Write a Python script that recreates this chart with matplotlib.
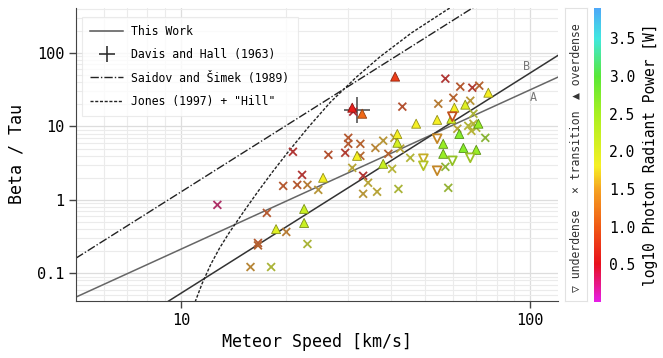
import numpy as np
import matplotlib
matplotlib.use("Agg")
import matplotlib.pyplot as plt
from matplotlib.colors import LinearSegmentedColormap, Normalize
from matplotlib.lines import Line2D
from matplotlib.ticker import FixedLocator, FixedFormatter, NullFormatter

plt.rcParams['font.family'] = ['DejaVu Sans Mono', 'DejaVu Sans']

# overdense meteors (speed km/s, beta/tau, log10 power W)
over_v = [41.0, 30.9, 33.0, 75.8, 60.6, 65.1, 47.1, 54.1, 59.4, 71.0, 41.6, 41.6,
          62.6, 56.3, 64.3, 70.0, 56.3, 31.9, 37.9, 25.5, 22.5, 22.5, 18.7]
over_bt = [47.7, 18.0, 14.9, 28.8, 18.0, 19.8, 10.9, 12.3, 12.7, 10.9, 7.9, 6.0,
           7.9, 5.8, 5.1, 4.8, 4.24, 3.98, 3.10, 2.0, 0.754, 0.485, 0.40]
over_p = [0.8, 0.6, 1.1, 1.8, 1.8, 2.0, 1.8, 1.8, 2.1, 2.6, 1.8, 2.1,
          2.7, 2.6, 2.7, 2.6, 2.6, 1.8, 2.2, 1.8, 2.2, 2.2, 2.0]

# underdense meteors
under_v = [59.8, 54.1, 49.4, 49.4, 54.1, 59.8, 67.3]
under_bt = [13.6, 6.8, 3.63, 2.91, 2.49, 3.40, 3.74]
under_p = [1.0, 1.5, 1.7, 2.0, 1.5, 2.4, 2.3]

# transition meteors
trans_v = [57.1, 63.0, 68.2, 71.4, 60.2, 54.5, 67.3, 43.0, 31.1, 68.7, 61.8, 66.4,
           68.7, 70.0, 67.8, 74.3, 30.1, 30.1, 32.6, 29.5, 36.0, 37.9, 40.8, 26.4,
           32.6, 39.2, 42.4, 45.3, 30.9, 40.2, 57.1, 33.2, 20.9, 22.2, 19.6, 21.5,
           23.0, 24.7, 12.7, 17.6, 20.0, 16.6, 16.6, 23.0, 15.8, 18.1, 34.3, 33.2,
           36.4, 41.9, 58.2]
trans_bt = [44.8, 34.8, 33.7, 35.9, 24.6, 20.4, 22.4, 18.6, 15.9, 14.9, 9.3, 10.2,
            10.9, 9.6, 8.7, 7.0, 7.0, 5.8, 5.8, 4.38, 5.1, 6.4, 7.0, 4.11,
            3.98, 4.24, 5.0, 3.74, 2.73, 2.65, 2.82, 2.13, 4.52, 2.19, 1.55, 1.60,
            1.60, 1.37, 0.855, 0.665, 0.366, 0.259, 0.240, 0.251, 0.122, 0.122, 1.71, 1.21,
            1.29, 1.41, 1.46]
trans_p = [0.6, 1.0, 0.7, 1.1, 1.1, 1.4, 1.6, 0.9, 0.5, 2.0, 1.7, 1.9,
           1.8, 2.0, 1.8, 2.5, 1.0, 1.0, 1.1, 0.7, 1.5, 1.6, 1.6, 0.9,
           1.2, 1.1, 1.7, 1.9, 1.7, 1.8, 2.4, 0.6, 0.6, 0.6, 1.0, 1.0,
           1.4, 1.6, 0.3, 1.0, 1.4, 1.0, 1.1, 2.0, 1.5, 2.0, 1.7, 1.6,
           1.7, 2.0, 2.3]

# Davis and Hall (1963)
davis_v, davis_bt = 31.9, 17.0

# power-law fits: beta/tau = 10**logc * v**k
fit_a = (-2.84, 2.17)
fit_b = (-4.27, 3.0)
saidov = (-2.89, 3.0)

# Jones (1997) + "Hill" (log10 v, log10 beta/tau)
jones_logv = [1.040, 1.060, 1.085, 1.110, 1.1375, 1.180, 1.220, 1.262,
              1.304, 1.365, 1.427, 1.500, 1.570, 1.660, 1.762, 1.80]
jones_logbt = [-1.39, -1.14, -0.877, -0.657, -0.448, -0.154, 0.114, 0.383,
               0.639, 0.993, 1.328, 1.664, 1.951, 2.275, 2.591, 2.70]

cmap = LinearSegmentedColormap.from_list("power", [
    (0.0, '#e61ee6'), (0.128, '#e8101c'), (0.256, '#f05a14'),
    (0.385, '#f5a422'), (0.462, '#f6f024'), (0.641, '#a8f020'),
    (0.769, '#58e838'), (0.897, '#40e8e0'), (1.0, '#4ea8f8')])
norm = Normalize(vmin=0, vmax=3.9)

fig = plt.figure(figsize=(6.63, 3.58), dpi=100)
ax = fig.add_axes([76 / 663, 1 - 301 / 358, 482 / 663, 293 / 358])
ax.set_xscale('log')
ax.set_yscale('log')
ax.set_xlim(5, 120)
ax.set_ylim(0.042, 410)

ax.grid(True, which='major', color='#dddddd', lw=0.9)
ax.grid(True, which='minor', color='#ebebeb', lw=0.8)
ax.set_axisbelow(True)
for s in ['top', 'right']:
    ax.spines[s].set_visible(False)
for s in ['left', 'bottom']:
    ax.spines[s].set_color('#444444')

vv = np.logspace(np.log10(5), np.log10(120), 200)
ax.plot(vv, 10 ** fit_a[0] * vv ** fit_a[1], color='#666666', lw=1.1)
ax.plot(vv, 10 ** fit_b[0] * vv ** fit_b[1], color='#333333', lw=1.1)
ax.plot(vv, 10 ** saidov[0] * vv ** saidov[1], color='#222222', lw=1.0,
        dashes=(6, 1.5, 1, 1.5))
ax.plot(10 ** np.array(jones_logv), 10 ** np.array(jones_logbt), color='#222222',
        lw=1.0, dashes=(2.2, 1.2))
ax.plot(davis_v, davis_bt, marker='+', ms=19, mew=1.2, color='#555555', ls='none',
        zorder=2)
ax.text(102, 24.7, 'A', color='#777777', fontsize=8.5, ha='center', va='center')
ax.text(97.4, 65, 'B', color='#777777', fontsize=8.5, ha='center', va='center')


def muted(c, k=0.6, g=0.14):
    return tuple(np.array(c[:3]) * k + g)


over_c = cmap(norm(np.array(over_p)))
ax.scatter(over_v, over_bt, marker='^', s=42, c=over_c,
           edgecolors=[muted(c, 0.6, 0.0) for c in over_c], linewidths=0.6,
           zorder=4)
under_c = cmap(norm(np.array(under_p)))
ax.scatter(under_v, under_bt, marker='v', s=40, facecolors='white',
           edgecolors=[muted(c, 0.75, 0.05) for c in under_c], linewidths=1.3,
           zorder=4)
trans_c = cmap(norm(np.array(trans_p)))
ax.scatter(trans_v, trans_bt, marker='x', s=32,
           c=[muted(c) for c in trans_c], linewidths=1.3, zorder=3)

ax.xaxis.set_major_locator(FixedLocator([10, 100]))
ax.xaxis.set_major_formatter(FixedFormatter(['10', '100']))
ax.xaxis.set_minor_formatter(NullFormatter())
ax.yaxis.set_major_locator(FixedLocator([0.1, 1, 10, 100]))
ax.yaxis.set_major_formatter(FixedFormatter(['0.1', '1', '10', '100']))
ax.yaxis.set_minor_formatter(NullFormatter())
ax.tick_params(which='major', length=5, width=1, color='#444444', labelsize=11)
ax.tick_params(which='minor', length=0)
ax.set_xlabel('Meteor Speed [km/s]', fontsize=12, labelpad=4)
ax.set_ylabel('Beta / Tau', fontsize=12, labelpad=8)

handles = [
    Line2D([], [], color='#555555', lw=1.1),
    Line2D([], [], color='#333333', marker='+', ms=12, mew=1.2, ls='none'),
    Line2D([], [], color='#222222', lw=1.0, dashes=(6, 1.5, 1, 1.5)),
    Line2D([], [], color='#222222', lw=1.0, dashes=(2.2, 1.2)),
]
labels = ['This Work', 'Davis and Hall (1963)', 'Saidov and Šimek (1989)',
          'Jones (1997) + "Hill"']
leg = ax.legend(handles, labels, loc='upper left', bbox_to_anchor=(0.0, 0.99),
                fontsize=8.3, handlelength=2.9, frameon=True, fancybox=False,
                borderpad=0.7, labelspacing=0.9, handletextpad=0.7)
leg.get_frame().set_edgecolor('#e6e6e6')
leg.get_frame().set_linewidth(0.8)

# marker-type key
kax = fig.add_axes([565 / 663, 1 - 301 / 358, 22 / 663, 293 / 358])
kax.set_xticks([])
kax.set_yticks([])
for s in kax.spines.values():
    s.set_color('#e2e2e2')
kax.text(0.5, 0.03, '▽ underdense', rotation=90, ha='center', va='bottom',
         fontsize=8.3, color='#333333', transform=kax.transAxes)
kax.text(0.5, 0.37, '× transition', rotation=90, ha='center', va='bottom',
         fontsize=8.3, color='#333333', transform=kax.transAxes)
kax.text(0.5, 0.69, '▲ overdense', rotation=90, ha='center', va='bottom',
         fontsize=8.3, color='#333333', transform=kax.transAxes)

cax = fig.add_axes([594 / 663, 1 - 302 / 358, 7 / 663, 294 / 358])
sm = matplotlib.cm.ScalarMappable(norm=norm, cmap=cmap)
cb = fig.colorbar(sm, cax=cax)
cb.outline.set_visible(False)
cb.set_ticks([0.5, 1.0, 1.5, 2.0, 2.5, 3.0, 3.5])
cb.set_ticklabels(['0.5', '1.0', '1.5', '2.0', '2.5', '3.0', '3.5'])
cax.tick_params(length=0, labelsize=10.5, pad=6)
cb.set_label('log10 Photon Radiant Power [W]', fontsize=10.5, labelpad=5)

fig.savefig('out.png', dpi=100)
